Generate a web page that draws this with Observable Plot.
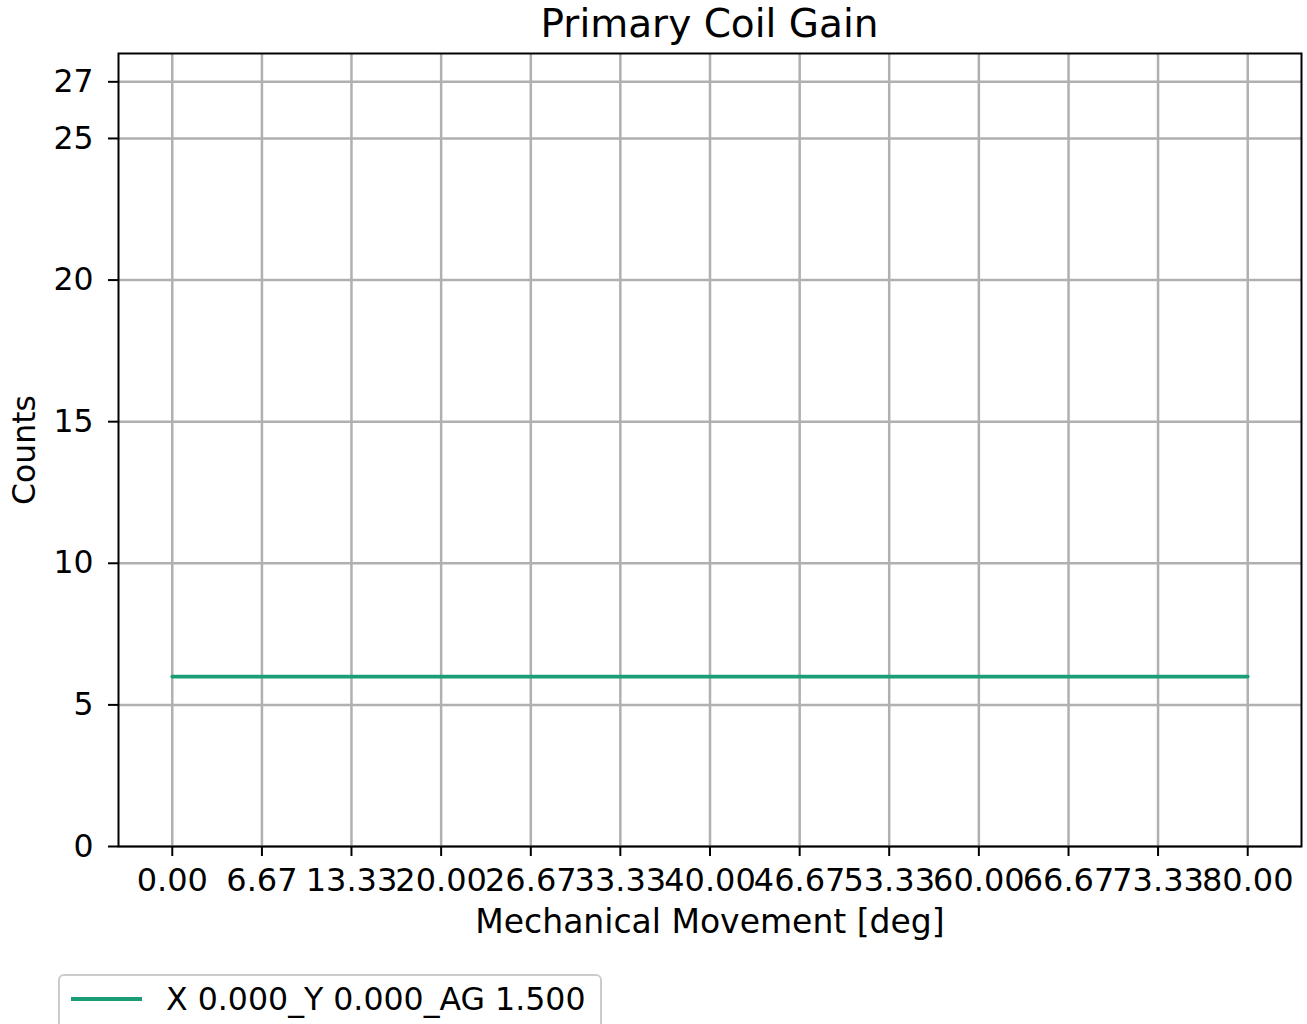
<!DOCTYPE html>
<html>
<head>
<meta charset="utf-8">
<script src="https://cdn.jsdelivr.net/npm/d3@7"></script>
<script src="https://cdn.jsdelivr.net/npm/@observablehq/plot@0.6"></script>
<style>
  html, body { margin: 0; padding: 0; background: #fff; width: 1307px; height: 1024px; overflow: hidden; }
  #wrap { position: relative; width: 1307px; height: 1024px; font-family: "DejaVu Sans", sans-serif; color: #000; }
  #title { position: absolute; left: 118px; width: 1183px; top: 4px; text-align: center; font-size: 39px; line-height: 1; white-space: nowrap; }
  #chart { position: absolute; left: 0; top: 45px; }
  #chart g[aria-label="x-axis label"] { font-size: 33px; }
  #legend { position: absolute; left: 58px; top: 974px; width: 540px; height: 80px; border: 2px solid #cccccc; border-radius: 6px; background: #fff; }
  #legend .swatch { position: absolute; left: 11px; top: 21px; width: 71px; height: 4px; }
  #legend .lab { position: absolute; left: 106px; top: 5px; font-size: 31.6px; line-height: 1.2; white-space: nowrap; }
</style>
</head>
<body>
<div id="wrap">
  <div id="title"></div>
  <div id="chart"></div>
  <div id="legend"><div class="swatch"></div><div class="lab"></div></div>
</div>
<script>
// ---- data ----
const chartTitle = "Primary Coil Gain";
const xLabel = "Mechanical Movement [deg]";
const yLabel = "Counts";
const seriesName = "X 0.000_Y 0.000_AG 1.500";
const seriesColor = "#1b9e77";
const xValues = [0, 6.67, 13.33, 20.0, 26.67, 33.33, 40.0, 46.67, 53.33, 60.0, 66.67, 73.33, 80.0];
const yValues = [6, 6, 6, 6, 6, 6, 6, 6, 6, 6, 6, 6, 6];
const xTicks = [0, 6.67, 13.33, 20.0, 26.67, 33.33, 40.0, 46.67, 53.33, 60.0, 66.67, 73.33, 80.0];
const xTickLabels = ["0.00", "6.67", "13.33", "20.00", "26.67", "33.33", "40.00", "46.67", "53.33", "60.00", "66.67", "73.33", "80.00"];
const yTicks = [0, 5, 10, 15, 20, 25, 27];

const data = xValues.map((x, i) => ({x, y: yValues[i]}));

document.getElementById("title").textContent = chartTitle;
document.querySelector("#legend .swatch").style.background = seriesColor;
document.querySelector("#legend .lab").textContent = seriesName;

const chart = Plot.plot({
  width: 1307,
  height: 890,
  marginTop: 8,
  marginLeft: 118,
  marginRight: 6,
  marginBottom: 89,
  style: {fontFamily: "DejaVu Sans, sans-serif", fontSize: "32px", color: "#000", background: "#fff", overflow: "visible"},
  x: {domain: [-4, 84]},
  y: {domain: [0, 28]},
  marks: [
    Plot.gridX(xTicks, {stroke: "#b0b0b0", strokeOpacity: 1, strokeWidth: 2.5}),
    Plot.gridY(yTicks, {stroke: "#b0b0b0", strokeOpacity: 1, strokeWidth: 2.5}),
    Plot.lineY(data, {x: "x", y: "y", stroke: seriesColor, strokeWidth: 3.8}),
    Plot.frame({stroke: "#000", strokeWidth: 2}),
    Plot.axisX(xTicks, {
      tickSize: 10, tickPadding: 12, strokeWidth: 2,
      tickFormat: (d) => xTickLabels[xTicks.indexOf(d)],
      fontSize: 32,
      label: xLabel, labelAnchor: "center", labelArrow: "none", labelOffset: 86
    }),
    Plot.axisY(yTicks, {
      tickSize: 10, tickPadding: 15, strokeWidth: 2,
      tickFormat: (d) => String(d),
      fontSize: 31.5,
      label: yLabel, labelAnchor: "center", labelArrow: "none", labelOffset: 106
    })
  ]
});
document.getElementById("chart").appendChild(chart);
</script>
</body>
</html>
